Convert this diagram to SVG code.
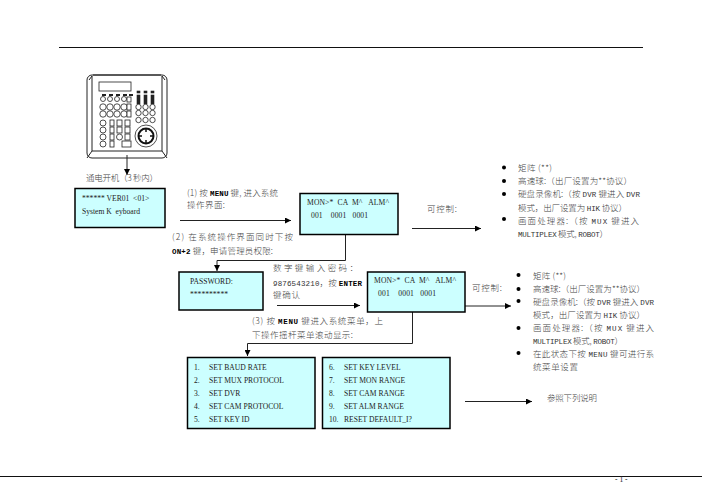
<svg xmlns="http://www.w3.org/2000/svg" width="702" height="496" viewBox="0 0 702 496">
<defs>
<marker id="ah" markerWidth="7" markerHeight="6" refX="6" refY="3" orient="auto" markerUnits="userSpaceOnUse"><path d="M0 0L6 3L0 6Z" fill="#000"/></marker>
</defs>
<style>
text{font-family:"Liberation Serif","Noto Sans CJK SC",serif;font-size:7.600px;fill:#222}
.cn{font-family:"Noto Sans CJK SC","Liberation Serif",serif;font-size:8.500px;font-weight:300;fill:#444}
.m{font-family:"Liberation Mono","Noto Sans CJK SC",monospace;font-size:7.500px;fill:#333}
.b{font-family:"Liberation Mono",monospace;font-weight:bold;font-size:7.500px;fill:#000}
.box{fill:#ccffff;stroke:#000;stroke-width:1.500}
.ln{fill:none;stroke:#222;stroke-width:1}
.ar{fill:none;stroke:#222;stroke-width:1;marker-end:url(#ah)}
.k{fill:#fff;stroke:#222;stroke-width:.8}
.kd{fill:#222;stroke:#222;stroke-width:.6}
</style>
<rect width="702" height="496" fill="#fff"/>
<g id="rules" stroke="#111" stroke-width="1"><path d="M59 47.500H643M0 476.500H702"/></g>
<g id="keypad">
<rect x="87" y="75" width="80" height="83" rx="5" fill="#fff" stroke="#222" stroke-width="1"/>
<path class="ln" d="M92 76V151H162V76M87 158L92 151M167 158L162 151M89 80L92 76M165 80L162 76M93 75H161"/>
<rect x="99" y="82" width="32" height="9" class="k"/>
<path stroke="#222" stroke-width="2" d="M102 95h4M109 95h4M116 95h4M123 95h4M129 95h4"/>
<g class="k">
<circle cx="103" cy="99" r="2.500"/><circle cx="110" cy="99" r="2.500"/><circle cx="117" cy="99" r="2.500"/><circle cx="124" cy="99" r="2.500"/><rect x="127" y="97" width="4" height="5"/>
<circle cx="103" cy="107" r="3.200"/><circle cx="110" cy="107" r="3.200"/><circle cx="117" cy="107" r="3.200"/><circle cx="124" cy="107" r="3.200"/><rect x="127" y="104" width="4" height="6"/>
<circle cx="103" cy="114" r="3.200"/><circle cx="110" cy="114" r="3.200"/><circle cx="117" cy="114" r="3.200"/><circle cx="124" cy="114" r="3.200"/><rect x="127" y="111" width="4" height="6"/>
<circle cx="103" cy="123" r="3"/><rect x="110" y="120" width="4" height="6"/><rect x="117" y="120" width="5" height="6"/><rect x="125" y="120" width="5" height="6"/>
<circle cx="103" cy="130" r="3"/><rect x="110" y="127" width="4" height="6"/><rect x="117" y="127" width="5" height="6"/><rect x="125" y="127" width="5" height="6"/>
<circle cx="103" cy="137" r="3"/><rect x="110" y="134" width="4" height="6"/><circle cx="119.500" cy="137" r="3"/><rect x="125" y="134" width="5" height="6"/>
<circle cx="103" cy="144" r="3"/><rect x="110" y="141" width="4" height="6"/><rect x="122" y="141" width="9" height="6"/>
</g>
<g class="kd"><rect x="137" y="91" width="3" height="2"/><rect x="144" y="91" width="3" height="2"/><rect x="151" y="91" width="3" height="2"/><rect x="137" y="95" width="3" height="9"/><rect x="144" y="95" width="3" height="9"/><rect x="151" y="95" width="3" height="9"/></g>
<g class="k"><circle cx="138.500" cy="107" r="2.700"/><circle cx="145.500" cy="107" r="2.700"/><circle cx="152.500" cy="107" r="2.700"/><circle cx="138.500" cy="113" r="2.700"/><circle cx="145.500" cy="113" r="2.700"/><circle cx="152.500" cy="113" r="2.700"/><circle cx="138.500" cy="120" r="2.700"/><circle cx="145.500" cy="120" r="2.700"/><circle cx="152.500" cy="120" r="2.700"/></g>
<circle cx="146" cy="136" r="11" class="k"/>
<circle cx="146" cy="136" r="7.500" fill="none" stroke="#111" stroke-width="2"/>
<path stroke="#111" stroke-width="1.500" d="M146 128v4M146 140v4M138 136h4M150 136h4"/>
</g>
<g id="connectors">
<path class="ar" d="M127 155V175"/>
<path class="ar" d="M180 220.500H291"/>
<path class="ar" d="M345.500 234V260.500H217V271"/>
<path class="ar" d="M277 305.500H360"/>
<path class="ar" d="M412 228.500H481"/>
<path class="ar" d="M465 306H511"/>
<path class="ar" d="M412.500 312V343.500H247.500V356"/>
<path class="ar" d="M465 401.500H532"/>
</g>
<g id="power-label"><text class="cn" x="86" y="181" textLength="72">通电开机（3 秒内）</text></g>
<g id="box-version"><rect class="box" x="75" y="188.500" width="90" height="39"/>
<text x="82" y="201">****** VER01 &#160;&lt;01&gt;</text><text x="82" y="214">System K &#160;eyboard</text></g>
<g id="label-1"><text class="cn" x="187" y="195.500" textLength="91">(1) 按 <tspan class="b">MENU</tspan> 键, 进入系统</text><text class="cn" x="187" y="208" textLength="38">操作界面:</text></g>
<g id="label-2"><text class="cn" x="172" y="239.500" textLength="121">(2) 在系统操作界面同时下按</text><text class="cn" x="172" y="254" textLength="101"><tspan class="b">ON+2</tspan> 键，申请管理员权限:</text></g>
<g id="box-mon1"><rect class="box" x="300" y="193.500" width="98" height="41"/>
<text x="307" y="205" textLength="82">MON&gt;* &#160;CA &#160;M^ &#160; ALM^</text><text x="311" y="218" textLength="57">001 &#160; &#160;0001 &#160; 0001</text></g>
<g id="label-ctl1"><text class="cn" x="427" y="212" textLength="30">可控制:</text></g>
<g id="list-1">
<g fill="#000"><circle cx="504" cy="167.500" r="2"/><circle cx="504" cy="181" r="2"/><circle cx="504" cy="194" r="2"/><circle cx="504" cy="219" r="2"/></g>
<text class="cn" x="518" y="171" textLength="34">矩阵 (**)</text>
<text class="cn" x="518" y="184" textLength="114">高速球:（出厂设置为**协议）</text>
<text class="cn" x="518" y="197" textLength="122">硬盘录像机:（按 <tspan class="m">DVR</tspan> 键进入 <tspan class="m">DVR</tspan></text>
<text class="cn" x="518" y="211" textLength="109">模式，出厂设置为 <tspan class="m">HIK</tspan> 协议）</text>
<text class="cn" x="518" y="224" textLength="121">画面处理器:（按 <tspan class="m">MUX</tspan> 键进入</text>
<text class="cn" x="518" y="236.500" textLength="90"><tspan class="m">MULTIPLEX</tspan> 模式, <tspan class="m">ROBOT</tspan>）</text>
</g>
<g id="box-password"><rect class="box" x="179" y="272" width="84" height="38"/>
<text x="190" y="284" font-size="8">PASSWORD:</text><text x="190" y="296.500" font-size="8">**********</text></g>
<g id="label-pw"><text class="cn" x="273" y="271" textLength="85">数字键输入密码：</text><text class="cn" x="273" y="286" textLength="89"><tspan class="m">9876543210</tspan>，按 <tspan class="b">ENTER</tspan></text><text class="cn" x="273" y="298" textLength="27">键确认</text></g>
<g id="box-mon2"><rect class="box" x="367.500" y="272" width="97.500" height="40"/>
<text x="374" y="283" textLength="82">MON&gt;* &#160;CA &#160;M^ &#160; ALM^</text><text x="378" y="296" textLength="58">001 &#160; &#160;0001 &#160; 0001</text></g>
<g id="label-ctl2"><text class="cn" x="472" y="291" textLength="30">可控制:</text></g>
<g id="list-2">
<g fill="#000"><circle cx="518.500" cy="275" r="2"/><circle cx="518.500" cy="289" r="2"/><circle cx="518.500" cy="301" r="2"/><circle cx="518.500" cy="328" r="2"/><circle cx="518.500" cy="353" r="2"/></g>
<text class="cn" x="533" y="279" textLength="33">矩阵 (**)</text>
<text class="cn" x="533" y="292" textLength="112">高速球:（出厂设置为**协议）</text>
<text class="cn" x="533" y="305" textLength="121">硬盘录像机:（按 <tspan class="m">DVR</tspan> 键进入 <tspan class="m">DVR</tspan></text>
<text class="cn" x="533" y="317.500" textLength="112">模式，出厂设置为 <tspan class="m">HIK</tspan> 协议）</text>
<text class="cn" x="533" y="331" textLength="121">画面处理器:（按 <tspan class="m">MUX</tspan> 键进入</text>
<text class="cn" x="533" y="344" textLength="90"><tspan class="m">MULTIPLEX</tspan> 模式, <tspan class="m">ROBOT</tspan>）</text>
<text class="cn" x="533" y="357" textLength="121">在此状态下按 <tspan class="m">MENU</tspan> 键可进行系</text>
<text class="cn" x="533" y="369.500" textLength="45">统菜单设置</text>
</g>
<g id="label-3"><text class="cn" x="252" y="324" textLength="131">(3) 按 <tspan class="b">MENU</tspan> 键进入系统菜单，上</text><text class="cn" x="252" y="338" textLength="101">下操作摇杆菜单滚动显示:</text></g>
<g id="box-menu1"><rect class="box" x="187.500" y="357.500" width="127.500" height="71"/>
<text x="194" y="369.500">1.</text><text x="209" y="369.500">SET BAUD RATE</text>
<text x="194" y="382.500">2.</text><text x="209" y="382.500">SET MUX PROTOCOL</text>
<text x="194" y="395.500">3.</text><text x="209" y="395.500">SET DVR</text>
<text x="194" y="408.500">4.</text><text x="209" y="408.500">SET CAM PROTOCOL</text>
<text x="194" y="421.500">5.</text><text x="209" y="421.500">SET KEY ID</text></g>
<g id="box-menu2"><rect class="box" x="322.500" y="357.500" width="127.500" height="71"/>
<text x="329" y="369.500">6.</text><text x="344" y="369.500">SET KEY LEVEL</text>
<text x="329" y="382.500">7.</text><text x="344" y="382.500">SET MON RANGE</text>
<text x="329" y="395.500">8.</text><text x="344" y="395.500">SET CAM RANGE</text>
<text x="329" y="408.500">9.</text><text x="344" y="408.500">SET ALM RANGE</text>
<text x="329" y="421.500">10.</text><text x="344" y="421.500">RESET DEFAULT_I?</text></g>
<g id="label-ref"><text class="cn" x="547" y="401" textLength="50">参照下列说明</text></g>
<g id="page-no"><text x="615" y="482" font-size="7">- 1 -</text></g>
</svg>
